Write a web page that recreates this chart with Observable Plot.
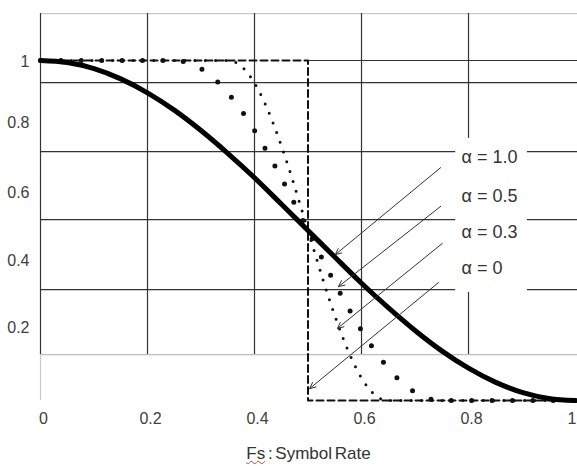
<!DOCTYPE html>
<html><head><meta charset="utf-8">
<script src="https://cdn.jsdelivr.net/npm/d3@7"></script>
<script src="https://cdn.jsdelivr.net/npm/@observablehq/plot@0.6"></script>
<style>
body{margin:0;background:#fff;}
#chart{width:577px;}
#title{font-family:"Liberation Sans",Arial,sans-serif;font-size:17px;color:#333;padding-left:40px;width:537px;text-align:center;line-height:20px;margin-top:8px;word-spacing:-2px;}
#title .sp{text-decoration:underline wavy #d04040;text-decoration-thickness:1px;}
</style></head><body>
<div id="chart"></div>
<div id="title"><span class="sp">Fs</span> : Symbol Rate</div>
<script>
// Frequency (normalised to symbol rate) and response values
const freq10 = [0,0.05,0.1,0.15,0.2,0.25,0.3,0.35,0.4,0.45,0.5,0.55,0.6,0.65,0.7,0.75,0.8,0.85,0.9,0.95,1];
const resp10 = [1,0.994,0.976,0.946,0.905,0.854,0.794,0.727,0.655,0.578,0.5,0.422,0.345,0.273,0.206,0.146,0.095,0.054,0.024,0.006,0];

const freq05 = [0,0.1,0.2,0.25,0.275,0.3,0.325,0.35,0.375,0.4,0.425,0.45,0.475,0.5,0.525,0.55,0.575,0.6,0.625,0.65,0.675,0.7,0.725,0.75,0.8,0.9,1];
const resp05 = [1,1,1,1,0.994,0.976,0.946,0.905,0.854,0.794,0.727,0.655,0.578,0.5,0.422,0.345,0.273,0.206,0.146,0.095,0.054,0.024,0.006,0,0,0,0];

const freq03 = [0,0.1,0.2,0.3,0.35,0.365,0.38,0.395,0.41,0.425,0.44,0.455,0.47,0.485,0.5,0.515,0.53,0.545,0.56,0.575,0.59,0.605,0.62,0.635,0.65,0.7,0.8,0.9,1];
const resp03 = [1,1,1,1,1,0.994,0.976,0.946,0.905,0.854,0.794,0.727,0.655,0.578,0.5,0.422,0.345,0.273,0.206,0.146,0.095,0.054,0.024,0.006,0,0,0,0,0];

const freq0 = [0,0.5,0.5,1];
const resp0 = [1,1,0,0];

// Tick labels
const xTickAt = [0,0.2,0.4,0.6,0.8,1];
const xTickText = ["0","0.2","0.4","0.6","0.8","1"];
const yTickAt = [0.997,0.818,0.61,0.412,0.215];
const yTickText = ["1","0.8","0.6","0.4","0.2"];

// Grid as drawn in the picture
const gridX = [0.2,0.4,0.6,0.8];
const gridY = [0.935,0.732,0.532,0.326];
const gridTop = 1.138;
const gridBottom = 0.135;

// Annotations
const labelText = ["α = 1.0","α = 0.5","α = 0.3","α = 0"];
const labelFreq = 0.787;
const labelResp = [0.715,0.6,0.494,0.388];
const arrowFromF = [0.748,0.748,0.751,0.744];
const arrowFromR = [0.685,0.571,0.462,0.347];
const arrowToF = [0.551,0.557,0.555,0.503];
const arrowToR = [0.429,0.335,0.212,0.035];

const pts = (xs, ys) => xs.map((x, i) => ({x, y: ys[i]}));
const arrows = arrowFromF.map((f, i) => ({x1: f, y1: arrowFromR[i], x2: arrowToF[i], y2: arrowToR[i]}));
const labels = labelText.map((t, i) => ({t, x: labelFreq, y: labelResp[i]}));
const mask = [{x1: labelFreq - 0.011, x2: labelFreq + 0.123,
  y1: d3.min(labelResp) - 0.07, y2: d3.max(labelResp) + 0.056}];
const xTicks = xTickAt.map((x, i) => ({x, t: xTickText[i]}));
const xTicksInner = xTicks.slice(0, -1);
const xTickLast = xTicks.slice(-1);

const dark = "#333";
const chart = Plot.plot({
  width: 577,
  height: 436,
  marginLeft: 40,
  marginRight: 0,
  x: {domain: [0, 1.0037], axis: null},
  y: {domain: [0, 1], range: [400, 60], axis: null},
  style: {fontFamily: "'Liberation Sans', Arial, sans-serif", fontSize: "16px", color: "#404040", background: "#fff"},
  marks: [
    Plot.ruleY([gridTop], {stroke: "#c8c8c8", strokeWidth: 1.2}),
    Plot.ruleY([gridBottom], {stroke: "#bdbdbd", strokeWidth: 1.2}),
    Plot.ruleX([0], {y1: 0, y2: gridBottom, stroke: "#c8c8c8", strokeWidth: 1.2}),
    Plot.ruleX([0], {y1: gridBottom, y2: gridTop, stroke: dark, strokeWidth: 1.2}),
    Plot.ruleY(gridY, {stroke: dark, strokeWidth: 1.2}),
    Plot.ruleY([1], {x1: 0.5, x2: 1.0037, stroke: dark, strokeWidth: 1.2}),
    Plot.ruleX(gridX, {y1: gridBottom, y2: gridTop, stroke: dark, strokeWidth: 1.2}),
    Plot.rect(mask, {x1: "x1", x2: "x2", y1: "y1", y2: "y2", fill: "#fff"}),
    Plot.line(pts(freq0, resp0), {x: "x", y: "y", stroke: "#111", strokeWidth: 2, strokeDasharray: "7 4"}),
    Plot.line(pts(freq03, resp03), {x: "x", y: "y", curve: "monotone-x", stroke: "#111", strokeWidth: 3, strokeDasharray: "0 10.3", strokeLinecap: "round"}),
    Plot.line(pts(freq05, resp05), {x: "x", y: "y", curve: "monotone-x", stroke: "#111", strokeWidth: 5, strokeDasharray: "0 20.4", strokeLinecap: "round"}),
    Plot.line(pts(freq10, resp10), {x: "x", y: "y", curve: "monotone-x", stroke: "#000", strokeWidth: 5}),
    Plot.arrow(arrows, {x1: "x1", y1: "y1", x2: "x2", y2: "y2", stroke: dark, strokeWidth: 1, headLength: 10, headAngle: 50, bend: 0}),
    Plot.text(labels, {x: "x", y: "y", text: "t", textAnchor: "start", lineAnchor: "middle", fontSize: 18, fill: dark}),
    Plot.text(yTickAt, {x: 0, y: d => d, text: (d, i) => yTickText[i], textAnchor: "end", lineAnchor: "middle", dx: -11, fill: "#404040"}),
    Plot.text(xTicksInner, {x: "x", y: 0, text: "t", lineAnchor: "middle", dx: 3, dy: 18, fill: "#404040"}),
    Plot.text(xTickLast, {x: "x", y: 0, text: "t", textAnchor: "end", lineAnchor: "middle", dx: 1, dy: 18, fill: "#404040"})
  ]
});
document.getElementById("chart").appendChild(chart);
</script>
</body></html>
